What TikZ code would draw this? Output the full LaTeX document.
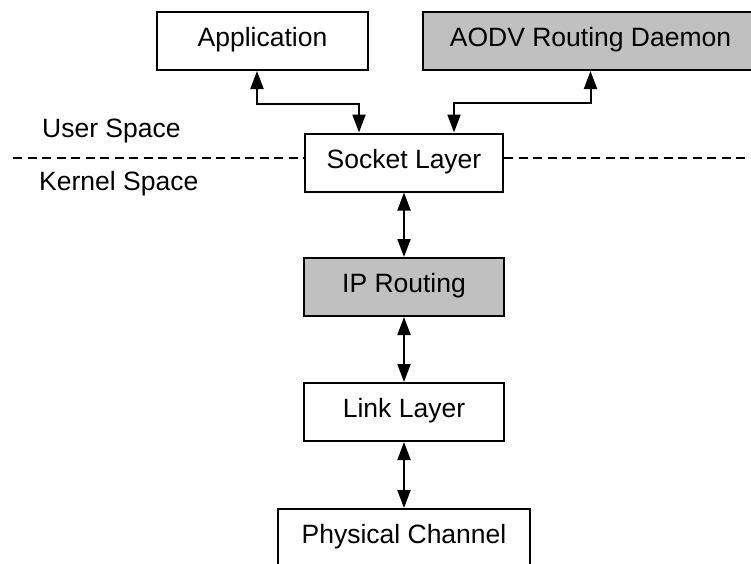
\documentclass[tikz,border=0pt]{standalone}
\usepackage{fontspec}
\setmainfont{Liberation Sans}
\usetikzlibrary{arrows.meta}

\definecolor{boxgray}{HTML}{C0C0C0}

\tikzset{
  layer/.style={draw=black, line width=2pt, fill=white, inner sep=0pt,
    minimum height=58pt, text height=19pt, text depth=8pt,
    font=\fontsize{26.5}{30}\selectfont},
  shaded/.style={layer, fill=boxgray},
  caption/.style={inner sep=0pt, anchor=base west,
    font=\fontsize{26.5}{30}\selectfont},
  link/.style={line width=2pt, {Triangle[length=18pt,width=13pt]}-{Triangle[length=18pt,width=13pt]}},
  divider/.style={line width=1.6pt, dash pattern=on 9pt off 5.5pt}
}

\begin{document}
\begin{tikzpicture}[x=1pt, y=-1pt]
  \useasboundingbox (0,0) rectangle (751,563);
  \clip (0,0) rectangle (751,563);

  % user-space processes
  \node[layer, minimum width=211pt] (app) at (262.5,41) {Application};
  \node[shaded, minimum width=335pt] (aodv) at (590.5,41) {AODV Routing Daemon};

  % kernel stack
  \node[layer, minimum width=198pt] (sock) at (404,162.5) {Socket Layer};
  \node[shaded, minimum width=200pt] (ip) at (404,287) {IP Routing};
  \node[layer, minimum width=200pt] (ll) at (404,412) {Link Layer};
  \node[layer, minimum width=252pt] (phy) at (404,538) {Physical Channel};

  % user / kernel boundary
  \coordinate (divL) at (13,158);
  \coordinate (divR) at (751,158);
  \draw[divider] (divL) -- (sock.west |- divL);
  \draw[divider] (sock.east |- divR) -- (divR);
  \node[caption] (user) at (42,137.5) {User Space};
  \node[caption] (kernel) at (39,190.5) {Kernel Space};

  % connections
  \draw[link] ([xshift=-5.5pt]app.south) |- (359,104) -- ([xshift=-45pt]sock.north);
  \draw[link] (aodv.south) |- (454,103) -- ([xshift=50pt]sock.north);
  \draw[link] (sock.south) -- (ip.north);
  \draw[link] (ip.south) -- (ll.north);
  \draw[link] (ll.south) -- (phy.north);
\end{tikzpicture}
\end{document}
